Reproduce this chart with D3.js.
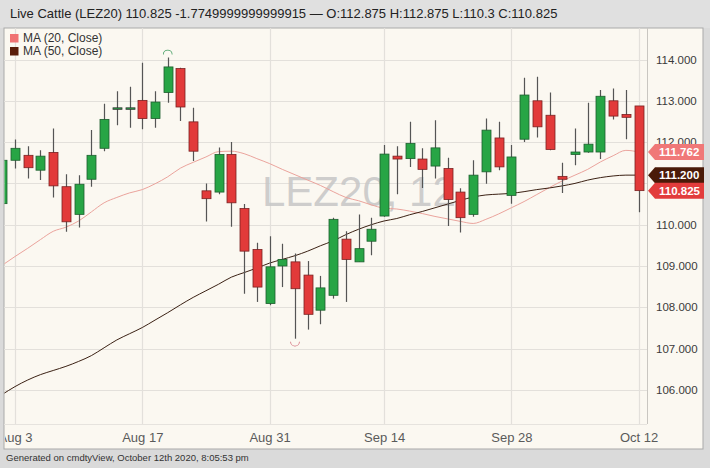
<!DOCTYPE html>
<html><head><meta charset="utf-8">
<script src="https://cdn.jsdelivr.net/npm/d3@7/dist/d3.min.js"></script>
<style>html,body{margin:0;padding:0;background:#dadada;}svg{display:block;}</style>
</head><body>
<svg id="chart" width="710" height="468"></svg>
<script>
const dates = ["2020-07-31","2020-08-03","2020-08-04","2020-08-05","2020-08-06","2020-08-07",
"2020-08-10","2020-08-11","2020-08-12","2020-08-13","2020-08-14",
"2020-08-17","2020-08-18","2020-08-19","2020-08-20","2020-08-21",
"2020-08-24","2020-08-25","2020-08-26","2020-08-27","2020-08-28",
"2020-08-31","2020-09-01","2020-09-02","2020-09-03","2020-09-04",
"2020-09-08","2020-09-09","2020-09-10","2020-09-11",
"2020-09-14","2020-09-15","2020-09-16","2020-09-17","2020-09-18",
"2020-09-21","2020-09-22","2020-09-23","2020-09-24","2020-09-25",
"2020-09-28","2020-09-29","2020-09-30","2020-10-01","2020-10-02",
"2020-10-05","2020-10-06","2020-10-07","2020-10-08","2020-10-09",
"2020-10-12"];
const open  = [110.51,111.56,111.68,111.32,111.75,110.92,110.25,111.10,111.85,112.82,112.83,113.01,112.57,113.20,113.78,112.49,110.82,110.79,111.70,110.39,109.40,108.09,109.00,109.10,108.78,107.93,108.29,109.65,109.10,109.60,110.21,111.66,111.60,111.59,111.42,111.36,110.79,110.25,111.28,112.10,110.71,112.07,113.00,112.65,111.17,111.70,111.76,111.76,113.00,112.67,112.875];
const high  = [111.70,112.06,111.90,111.80,112.33,111.22,111.20,112.29,112.93,113.23,113.34,113.92,113.23,114.05,113.80,112.83,111.00,111.87,112.00,110.50,109.56,109.72,109.54,109.30,109.12,108.76,110.17,109.84,110.25,110.17,111.93,111.90,112.49,111.85,112.53,111.62,110.88,111.56,112.57,112.49,111.93,113.56,113.58,113.20,111.50,112.33,112.95,113.26,113.30,113.26,112.875];
const low   = [110.40,111.36,111.12,111.08,110.66,109.83,109.93,110.92,111.78,112.41,112.35,112.31,112.35,112.95,112.51,111.54,110.08,110.74,109.95,108.33,108.13,108.05,108.49,107.24,107.46,107.59,108.21,108.13,109.10,109.26,110.19,110.74,111.40,110.89,111.12,109.97,109.81,110.19,110.99,111.32,110.51,112.00,112.11,111.80,110.77,111.44,111.74,111.59,112.55,112.07,110.30];
const close = [111.56,111.85,111.38,111.66,110.94,110.07,110.98,111.68,112.55,112.83,112.83,112.57,112.97,113.82,112.85,111.78,110.63,111.70,110.53,109.36,108.49,108.98,109.16,108.45,107.83,108.47,110.13,109.16,109.42,109.89,111.71,111.59,111.97,111.34,111.86,110.61,110.17,111.20,112.29,111.40,111.64,113.14,112.37,111.82,111.10,111.76,111.95,113.11,112.63,112.60,110.825];
const ma20  = [109.02,109.23,109.43,109.64,109.84,109.94,110.09,110.31,110.53,110.66,110.77,110.85,110.99,111.16,111.37,111.51,111.64,111.77,111.78,111.72,111.60,111.48,111.34,111.21,111.08,110.95,110.80,110.66,110.58,110.48,110.40,110.38,110.33,110.27,110.20,110.14,110.08,110.03,110.13,110.26,110.41,110.56,110.73,110.90,111.06,111.20,111.34,111.52,111.67,111.80,111.762];
const ma50  = [105.89,106.08,106.24,106.37,106.47,106.57,106.69,106.83,107.02,107.21,107.36,107.51,107.69,107.87,108.06,108.24,108.40,108.56,108.73,108.84,108.95,109.07,109.16,109.25,109.36,109.49,109.61,109.76,109.89,110.00,110.09,110.15,110.24,110.32,110.41,110.50,110.59,110.67,110.72,110.74,110.76,110.80,110.85,110.89,110.94,111.00,111.08,111.14,111.18,111.20,111.20];
const yTicks = [106,107,108,109,110,111,112,113,114];
const xTickDates = ["2020-08-03","2020-08-17","2020-08-31","2020-09-14","2020-09-28","2020-10-12"];
const xTickLabels = ["Aug 3","Aug 17","Aug 31","Sep 14","Sep 28","Oct 12"];
const headerText = "Live Cattle (LEZ20) 110.825 -1.7749999999999915 \u2014 O:112.875 H:112.875 L:110.3 C:110.825";
const footerText = "Generated on cmdtyView, October 12th 2020, 8:05:53 pm";
const legendItems = [{name:"MA (20, Close)", color:"#f07272"},{name:"MA (50, Close)", color:"#5a1c08"}];

const svg = d3.select("#chart");
const P = {left:4, right:647, top:28, bottom:424, frameBottom:449, axisRight:703};

const x = d3.scalePoint().domain(dates).range([2.3, 638.6]).padding(0);
const y = d3.scaleLinear().domain([106,114]).range([389.9, 59.5]);

const data = dates.map((d,i)=>({d, o:open[i], h:high[i], l:low[i], c:close[i], m20:ma20[i], m50:ma50[i]}));

// backgrounds
svg.append("rect").attr("x",0).attr("y",0).attr("width",710).attr("height",468).attr("fill","#dadada");
svg.append("rect").attr("x",0).attr("y",0).attr("width",710).attr("height",P.top).attr("fill","#e0e0e0");
svg.append("rect").attr("x",P.left).attr("y",P.top).attr("width",P.axisRight-P.left).attr("height",P.frameBottom-P.top)
  .attr("fill","#fbf8f1").attr("stroke","#a9a9a9").attr("stroke-width",1);

const defs = svg.append("defs");
defs.append("clipPath").attr("id","plotClip").append("rect")
  .attr("x",P.left+0.5).attr("y",P.top).attr("width",P.right-P.left-0.5).attr("height",P.bottom-P.top);
defs.append("clipPath").attr("id","axisClip").append("rect")
  .attr("x",P.left+1).attr("y",P.bottom).attr("width",P.axisRight-P.left-2).attr("height",P.frameBottom-P.bottom);

// gridlines
const grid = svg.append("g");
grid.selectAll("line.h").data(yTicks).join("line")
  .attr("x1",P.left).attr("x2",P.right).attr("y1",d=>Math.round(y(d))+0.5).attr("y2",d=>Math.round(y(d))+0.5)
  .attr("stroke","#e3e0db").attr("stroke-width",1.2);
grid.selectAll("line.v").data(xTickDates).join("line")
  .attr("x1",d=>Math.round(x(d))+0.5).attr("x2",d=>Math.round(x(d))+0.5).attr("y1",P.top).attr("y2",P.bottom)
  .attr("stroke","#e3e0db").attr("stroke-width",1.2);
svg.append("line").attr("x1",P.left).attr("x2",P.right).attr("y1",P.bottom+0.5).attr("y2",P.bottom+0.5).attr("stroke","#e6e3de");
svg.append("line").attr("x1",P.right+0.5).attr("x2",P.right+0.5).attr("y1",P.top).attr("y2",P.bottom).attr("stroke","#c9c6c1");

// watermark
svg.append("text").attr("x",262).attr("y",206).attr("font-family","'Liberation Sans', Arial, sans-serif")
  .attr("font-size",42).attr("fill","#c6c6c6").attr("fill-opacity",0.85).text("LEZ20, 12");

const plot = svg.append("g").attr("clip-path","url(#plotClip)");

// MA lines
const lineGen = key => d3.line().x(d=>x(d.d)).y(d=>y(d[key])).curve(d3.curveMonotoneX);
plot.append("path").datum(data).attr("d",lineGen("m20")).attr("fill","none").attr("stroke","#eaa39c").attr("stroke-width",1);
plot.append("path").datum(data).attr("d",lineGen("m50")).attr("fill","none").attr("stroke","#3b2114").attr("stroke-width",1);

// candles
const bw = 9;
const cg = plot.append("g").selectAll("g").data(data).join("g");
cg.append("line").attr("x1",d=>Math.round(x(d.d))+0.5).attr("x2",d=>Math.round(x(d.d))+0.5)
  .attr("y1",d=>y(d.h)).attr("y2",d=>y(d.l)).attr("stroke","#555").attr("stroke-width",1.2);
cg.append("rect")
  .attr("x",d=>Math.round(x(d.d))+0.5-bw/2)
  .attr("y",d=>y(Math.max(d.o,d.c)))
  .attr("width",bw)
  .attr("height",d=>Math.max(1.5, Math.abs(y(d.o)-y(d.c))))
  .attr("fill",d=>d.c>=d.o ? "#27a545" : "#e23a3a")
  .attr("stroke",d=>Math.abs(d.c-d.o)<0.05 ? "#333" : (d.c>=d.o ? "#1d5e2e" : "#7a2222"))
  .attr("stroke-width",0.8);

// high/low markers
const hiIdx = d3.maxIndex(high), loIdx = d3.minIndex(low);
const arc = d3.arc();
plot.append("path")
  .attr("transform",`translate(${x(dates[hiIdx])},${y(high[hiIdx])-3})`)
  .attr("d",arc({innerRadius:4,outerRadius:4.8,startAngle:-Math.PI/2,endAngle:Math.PI/2}))
  .attr("fill","#3c9a5c");
plot.append("path")
  .attr("transform",`translate(${x(dates[loIdx])},${y(low[loIdx])+3})`)
  .attr("d",arc({innerRadius:4,outerRadius:4.8,startAngle:Math.PI/2,endAngle:Math.PI*1.5}))
  .attr("fill","#d26a78");

// right axis labels
const yAxisG = svg.append("g").attr("transform",`translate(${P.right},0)`)
  .call(d3.axisRight(y).tickValues(yTicks).tickFormat(d3.format(".3f")).tickSize(0).tickPadding(9));
yAxisG.select(".domain").remove();
yAxisG.selectAll("text").attr("font-family","'Liberation Sans', Arial, sans-serif").attr("font-size",11.5).attr("fill","#3a3a3a");

// x axis labels
const xAxisOuter = svg.append("g").attr("clip-path","url(#axisClip)");
const xAxisG = xAxisOuter.append("g").attr("transform",`translate(0,${P.bottom})`)
  .call(d3.axisBottom(x).tickValues(xTickDates).tickFormat((d,i)=>xTickLabels[i]).tickSize(0).tickPadding(9));
xAxisG.select(".domain").remove();
xAxisG.selectAll("text").attr("font-family","'Liberation Sans Narrow', 'Arial Narrow', sans-serif").attr("font-size",13).attr("fill","#5a5a5a");

// value tags
const tags = [
  {v:ma20[ma20.length-1], color:"#f07878"},
  {v:ma50[ma50.length-1], color:"#4a1a08"},
  {v:close[close.length-1], color:"#e23c3c"}
];
const tg = svg.append("g").selectAll("g").data(tags).join("g").attr("transform",d=>`translate(${P.right+1},${y(d.v)})`);
tg.append("path").attr("d","M0,0 L7,-8 L56,-8 L56,8 L7,8 Z").attr("fill",d=>d.color);
tg.append("text").attr("x",11).attr("y",4).attr("font-family","'Liberation Sans', Arial, sans-serif")
  .attr("font-size",11.5).attr("font-weight","bold").attr("fill","#fff").text(d=>d3.format(".3f")(d.v));

// legend
const lg = svg.append("g").selectAll("g").data(legendItems).join("g").attr("transform",(d,i)=>`translate(10,${34+i*13})`);
lg.append("rect").attr("width",8.5).attr("height",8.5).attr("fill",d=>d.color);
lg.append("text").attr("x",13).attr("y",8).attr("font-family","'Liberation Sans', Arial, sans-serif")
  .attr("font-size",12).attr("fill","#333").text(d=>d.name);

// header & footer
svg.append("text").attr("x",10).attr("y",18).attr("font-family","'Liberation Sans', Arial, sans-serif")
  .attr("font-size",13).attr("fill","#222").text(headerText);
svg.append("text").attr("x",6).attr("y",461).attr("font-family","'Liberation Sans', Arial, sans-serif")
  .attr("font-size",9.5).attr("fill","#333").text(footerText);
</script>
</body></html>
